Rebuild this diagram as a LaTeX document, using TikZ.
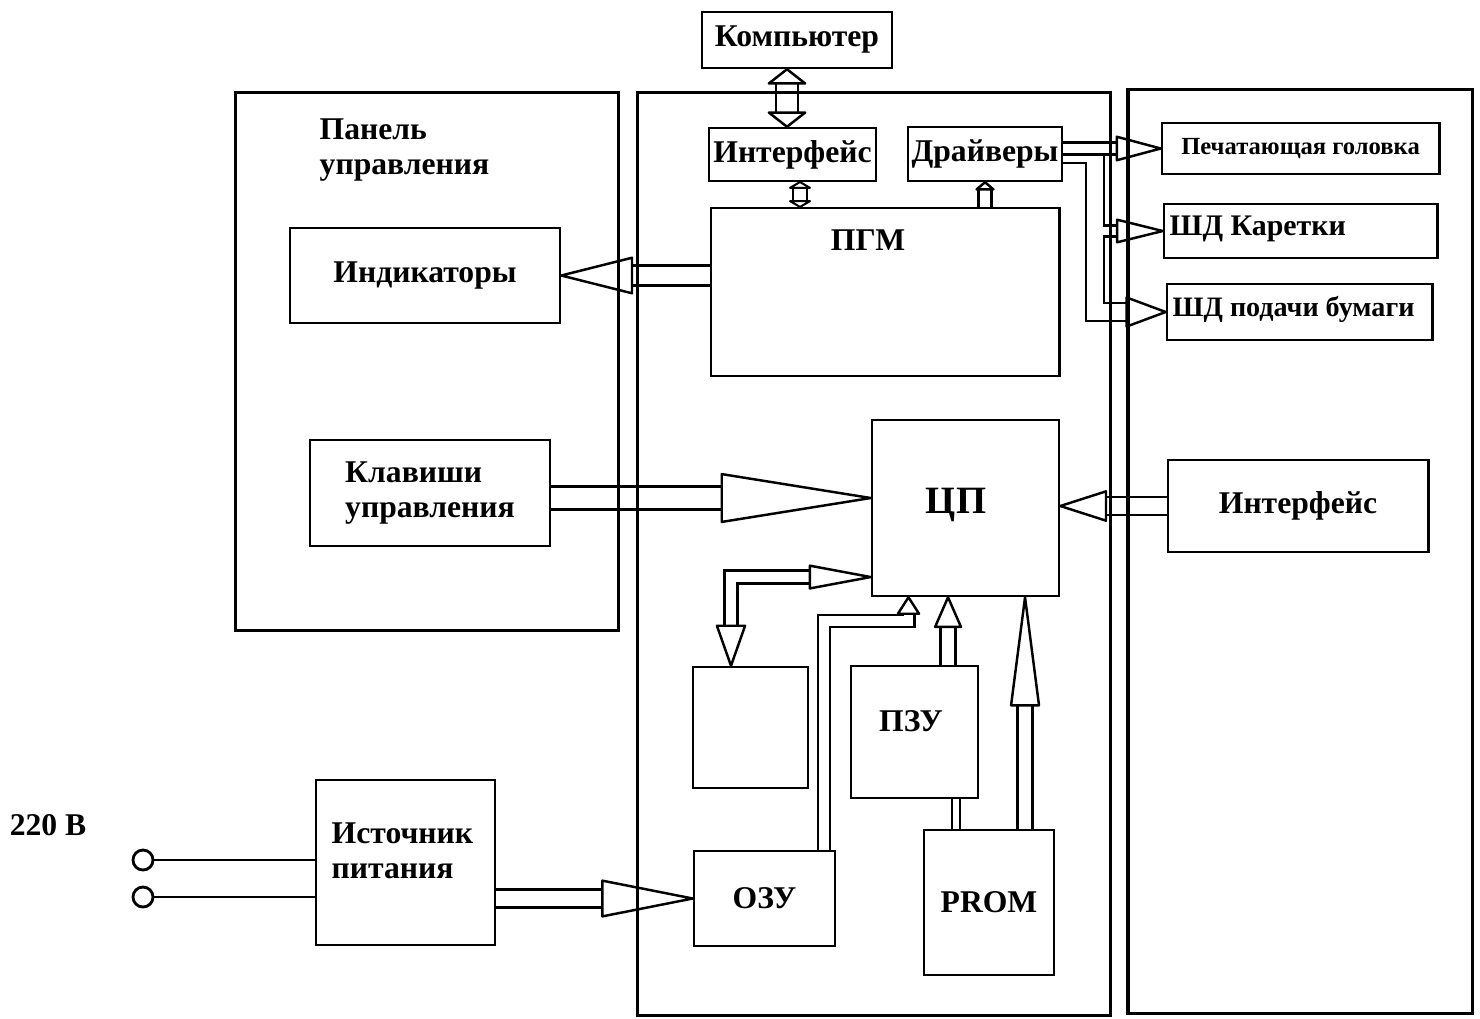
\documentclass[tikz,border=0pt]{standalone}
\usepackage{fontspec}
\setmainfont{Liberation Serif}
\usetikzlibrary{arrows.meta,backgrounds}

\begin{document}
\begin{tikzpicture}
  [x=0.01cm, y=-0.01cm,
   blk/.style={draw, line width=0.8pt, inner sep=1pt, outer sep=0pt, align=center, font=\bfseries\fontsize{9}{10}\selectfont},
   frame/.style={draw, line width=0.9pt},
   txt/.style={inner sep=0pt, align=left, font=\bfseries\fontsize{9}{10}\selectfont},
   bus/.style={double, line width=0.7pt, double distance=#1},
   onehead/.style 2 args={-{Triangle[open, round, length=#1, width=#2, line width=0.7pt]}},
   twoheads/.style 2 args={{Triangle[open, round, length=#1, width=#2, line width=0.7pt]}-{Triangle[open, round, length=#1, width=#2, line width=0.7pt]}}]
  \useasboundingbox (0,0) rectangle (1480,1018);

  % frames
  \node[frame, minimum width=3.82cm, minimum height=5.37cm] (panel) at (427,361.5) {};
  \node[frame, minimum width=4.72cm, minimum height=9.22cm] (board) at (874,554) {};
  \node[frame, minimum width=3.44cm, minimum height=9.23cm] (mech) at (1300,551.5) {};
  \node[txt, anchor=west] (paneltitle) at (319,150) {Панель\\управления};

  % blocks
  \node[blk, minimum width=1.90cm, minimum height=0.56cm] (comp) at (797,40) {Компьютер};
  \node[blk, minimum width=1.67cm, minimum height=0.53cm] (iface) at (792.5,154.5) {Интерфейс};
  \node[blk, minimum width=1.46cm, minimum height=0.54cm] (drv) at (985,154) {Драйверы};
  \node[blk, minimum width=3.48cm, minimum height=1.68cm] (pgm) at (885,292) {};
  \node[txt] (pgmlabel) at (868,240) {ПГМ};
  \node[blk, minimum width=2.70cm, minimum height=0.95cm] (ind) at (425,275.5) {Индикаторы};
  \node[blk, minimum width=2.40cm, minimum height=1.06cm, align=left] (keys) at (430,493) {Клавиши\\управления};
  \node[blk, minimum width=1.87cm, minimum height=1.76cm] (cpu) at (965.5,508) {};
  \node[txt, font=\bfseries\fontsize{11}{12}\selectfont] (cpulabel) at (956,505) {ЦП};
  \node[blk, minimum width=2.60cm, minimum height=0.92cm] (port) at (1298,506) {Интерфейс};
  \node[blk, minimum width=2.77cm, minimum height=0.51cm, font=\bfseries\fontsize{7}{8}\selectfont] (head) at (1300.5,148.5) {Печатающая головка};
  \node[blk, minimum width=2.73cm, minimum height=0.54cm] (car) at (1300.5,231) {};
  \node[txt, anchor=west, font=\bfseries\fontsize{8.5}{10}\selectfont] (carlabel) at (1169,229) {ШД Каретки};
  \node[blk, minimum width=2.65cm, minimum height=0.56cm] (paper) at (1299.5,312) {};
  \node[txt, anchor=west, font=\bfseries\fontsize{8}{10}\selectfont] (paperlabel) at (1172,309) {ШД подачи бумаги};
  \node[blk, minimum width=1.15cm, minimum height=1.21cm] (cache) at (750.5,727.5) {};
  \node[blk, minimum width=1.27cm, minimum height=1.32cm] (rom) at (914.5,732) {};
  \node[txt] (romlabel) at (911,721) {ПЗУ};
  \node[blk, minimum width=1.41cm, minimum height=0.95cm] (ozu) at (764.5,898.5) {ОЗУ};
  \node[blk, minimum width=1.30cm, minimum height=1.45cm] (prom) at (989,902.5) {PROM};
  \node[blk, minimum width=1.79cm, minimum height=1.65cm] (psu) at (405.5,862.5) {};
  \node[txt, anchor=west] (psulabel) at (331,851) {Источник\\питания};

  % mains input
  \node[txt] (mains) at (48,825) {220 В};
  \node[circle, draw, line width=0.8pt, minimum size=0.2cm, inner sep=0pt] (pin1) at (143,860) {};
  \node[circle, draw, line width=0.8pt, minimum size=0.2cm, inner sep=0pt] (pin2) at (143,897) {};
  \draw[line width=0.8pt] (pin1) -- (pin1 -| psu.west);
  \draw[line width=0.8pt] (pin2) -- (pin2 -| psu.west);

  % buses
  \begin{scope}[on background layer]
    \draw[bus=0.195cm, twoheads={0.17cm}{0.43cm}] ([xshift=-0.1cm]comp.south) -- ([xshift=-0.1cm]comp.south |- iface.north);
    \draw[bus=0.115cm, twoheads={0.08cm}{0.27cm}] ([xshift=0.075cm]iface.south) -- ([xshift=0.075cm]iface.south |- pgm.north);
    \draw[bus=0.105cm, onehead={0.1cm}{0.23cm}] (drv.south |- pgm.north) -- (drv.south);
    \draw[bus=0.175cm, onehead={0.77cm}{0.38cm}] (ind.east -| pgm.west) -- (ind.east);
    \draw[bus=0.205cm, onehead={1.58cm}{0.50cm}] ([yshift=-0.05cm]keys.east) -- ([yshift=-0.05cm]keys.east -| cpu.west);
    \draw[bus=0.155cm, onehead={0.51cm}{0.32cm}] (port.west) -- (port.west -| cpu.east);
    \draw[bus=0.105cm, {Triangle[open, round, length=0.69cm, width=0.25cm, line width=0.7pt]}-{Triangle[open, round, length=0.45cm, width=0.31cm, line width=0.7pt]}] ([yshift=-0.69cm]cpu.west) -| ([xshift=-0.195cm]cache.north);
    \draw[bus=0.095cm, onehead={0.2cm}{0.25cm}] ([xshift=-0.11cm]ozu.north east) -- ++(0,-230) -| ([xshift=-0.57cm]cpu.south);
    \draw[bus=0.125cm, onehead={0.34cm}{0.29cm}] ([xshift=0.335cm]rom.north) -- ([xshift=0.335cm]rom.north |- cpu.south);
    \draw[bus=0.125cm, onehead={1.19cm}{0.30cm}] ([xshift=0.36cm]prom.north) -- ([xshift=0.36cm]prom.north |- cpu.south);
    \draw[bus=0.055cm] ([xshift=-0.33cm]prom.north) -- ([xshift=-0.33cm]prom.north |- rom.south);
    \draw[bus=0.155cm, onehead={0.98cm}{0.38cm}] (ozu.west -| psu.east) -- (ozu.west);
    \draw[bus=0.155cm, onehead={0.44cm}{0.32cm}] (drv.east) -- ++(33,0) |- (paper.west);
    \draw[bus=0.085cm, onehead={0.52cm}{0.25cm}] ([xshift=0.41cm]drv.east |- car.west) -- (car.west);
    \draw[bus=0.095cm, onehead={0.50cm}{0.26cm}] (head.west -| drv.east) -- (head.west);
  \end{scope}
\end{tikzpicture}
\end{document}
